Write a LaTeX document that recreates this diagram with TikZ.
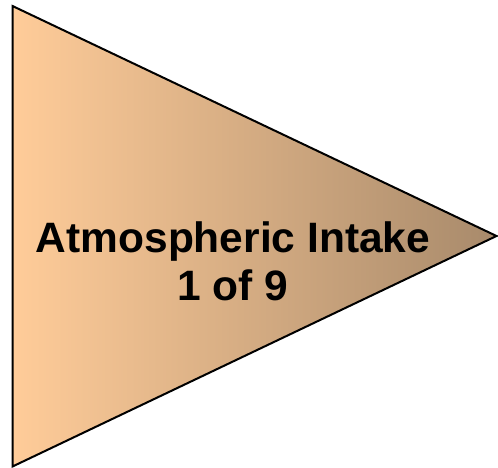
\documentclass[tikz,border=0pt]{standalone}
\usepackage{fontspec}
\setmainfont{Liberation Sans}
\usepackage{tikz}
\definecolor{peach}{HTML}{FFCC99}
\definecolor{tan}{HTML}{A88A6B}
\tikzset{arrowshape/.style={draw=black,line width=2pt,left color=peach,right color=tan}}

\begin{document}
\begin{tikzpicture}[x=1pt,y=-1pt]
  \useasboundingbox (0,0) rectangle (498,468);
  \coordinate (top) at (12.5,6); \coordinate (bottom) at (12.5,466.5); \coordinate (tip) at (496.5,236);
  \path[arrowshape] (top)--(tip)--(bottom)--cycle;
  \node[font=\fontsize{42.5}{48}\selectfont\bfseries,align=center] (label) at (233,261) {Atmospheric Intake\\1 of 9};
\end{tikzpicture}
\end{document}
